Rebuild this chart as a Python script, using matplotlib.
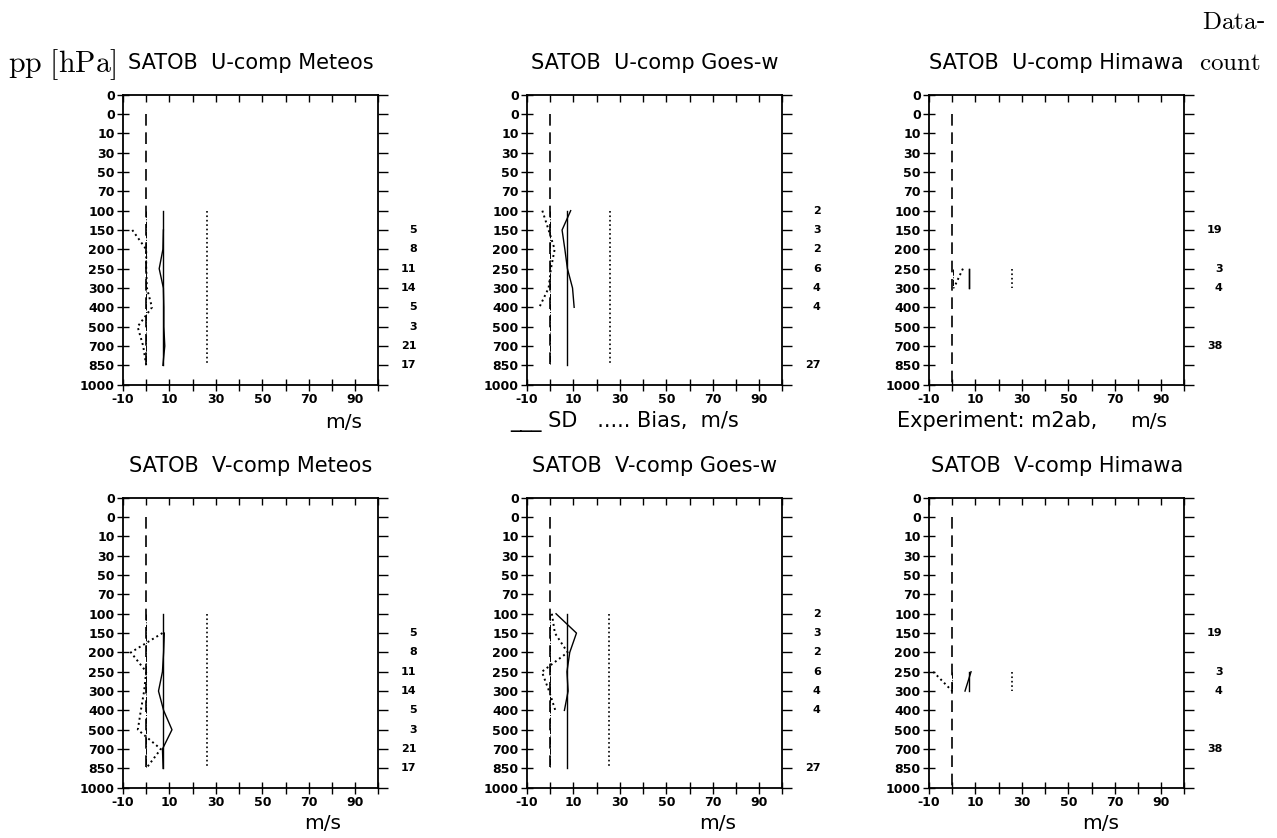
import matplotlib.pyplot as plt
from matplotlib.transforms import blended_transform_factory

plt.rcParams['mathtext.fontset'] = 'cm'

# y axis: pressure levels, equally spaced (as in the original plot)
levels = ['0', '0', '10', '30', '50', '70', '100', '150', '200', '250',
          '300', '400', '500', '700', '850', '1000']
x_ticks = list(range(-10, 101, 10))
x_labels = ['-10', '10', '30', '50', '70', '90']

# --- U component ---
u_meteos_p = [150, 200, 250, 300, 400, 500, 700, 850]
u_meteos_sd = [7.4, 7.2, 5.6, 7.4, 7.6, 7.6, 8.0, 7.2]
u_meteos_bias = [-6.0, 0.0, 0.0, 0.3, 2.5, -3.7, -1.3, 0.0]
u_meteos_cnt = [5, 8, 11, 14, 5, 3, 21, 17]

u_goes_p = [100, 150, 200, 250, 300, 400]
u_goes_sd = [8.8, 5.1, 6.3, 7.4, 9.6, 10.3]
u_goes_bias = [-3.4, -0.7, 1.9, 0.3, -0.7, -4.7]
u_goes_cnt_p = [100, 150, 200, 250, 300, 400, 850]
u_goes_cnt = [2, 3, 2, 6, 4, 4, 27]

u_hima_p = [250, 300]
u_hima_sd = [7.4, 7.4]
u_hima_bias = [4.6, 0.7]
u_hima_cnt_p = [150, 250, 300, 700]
u_hima_cnt = [19, 3, 4, 38]

# --- V component ---
v_meteos_p = [150, 200, 250, 300, 400, 500, 700, 850]
v_meteos_sd = [7.8, 7.5, 7.0, 5.3, 7.5, 11.1, 7.0, 7.3]
v_meteos_bias = [7.0, -6.6, 0.0, -0.9, -2.3, -3.6, 6.3, 0.0]

v_goes_p = [100, 150, 200, 250, 300, 400]
v_goes_sd = [2.5, 11.3, 8.4, 7.2, 7.7, 6.1]
v_goes_bias = [0.7, 2.0, 7.5, -3.6, -0.5, 2.2]

v_hima_p = [250, 300]
v_hima_sd = [8.1, 5.5]
v_hima_bias = [-8.2, 0.0]

# layer means drawn as vertical lines: (top, bottom, sd, bias, rms)
u_meteos_mean = (100, 850, 7.4, 0.0, 26.3)
u_goes_mean = (100, 850, 7.4, 0.0, 25.7)
u_hima_mean = (250, 300, 7.4, 0.3, 25.7)
v_meteos_mean = (100, 850, 7.2, 0.0, 26.0)
v_goes_mean = (100, 850, 7.2, 0.0, 25.4)
v_hima_mean = (250, 300, 7.2, 0.0, 25.9)

zero_span = {'Meteos': (1, 14), 'Goes-w': (1, 14), 'Himawa': (1, 15)}


def ypos(p):
    return levels.index(str(p))


panels = [
    ('U', 'Meteos', u_meteos_p, u_meteos_sd, u_meteos_bias, u_meteos_mean, u_meteos_p, u_meteos_cnt),
    ('U', 'Goes-w', u_goes_p, u_goes_sd, u_goes_bias, u_goes_mean, u_goes_cnt_p, u_goes_cnt),
    ('U', 'Himawa', u_hima_p, u_hima_sd, u_hima_bias, u_hima_mean, u_hima_cnt_p, u_hima_cnt),
    ('V', 'Meteos', v_meteos_p, v_meteos_sd, v_meteos_bias, v_meteos_mean, u_meteos_p, u_meteos_cnt),
    ('V', 'Goes-w', v_goes_p, v_goes_sd, v_goes_bias, v_goes_mean, u_goes_cnt_p, u_goes_cnt),
    ('V', 'Himawa', v_hima_p, v_hima_sd, v_hima_bias, v_hima_mean, u_hima_cnt_p, u_hima_cnt),
]

lefts = [0.0963, 0.4127, 0.7275]
bottoms = {'U': 0.541, 'V': 0.060}

fig = plt.figure(figsize=(12.77, 8.38), dpi=100)
sans = 'DejaVu Sans'

for i, (comp, sat, p, sd, bias, mean, cnt_p, cnt) in enumerate(panels):
    ax = fig.add_axes([lefts[i % 3], bottoms[comp], 0.2, 0.346])
    ax.set_xlim(-10, 100)
    ax.set_ylim(15, 0)

    y = [ypos(v) for v in p]
    ax.plot(sd, y, '-', color='black', lw=1.0)
    ax.plot(bias, y, ':', color='black', lw=1.4)

    top, bot, m_sd, m_bias, m_rms = mean
    yy = [ypos(top), ypos(bot)]
    ax.plot([m_sd, m_sd], yy, '-', color='black', lw=1.0)
    ax.plot([m_rms, m_rms], yy, ':', color='black', lw=1.2)
    ax.plot([m_bias, m_bias], yy, '-.', color='black', lw=0.7)
    z0, z1 = zero_span[sat]
    ax.plot([0, 0], [z0, z1], color='black', lw=1.2, dashes=(7, 4))

    ax.set_yticks(range(len(levels)))
    ax.set_yticklabels(levels, fontsize=9, fontweight='bold', family=sans)
    ax.set_xticks(x_ticks)
    ax.set_xticklabels([str(t) if str(t) in x_labels else '' for t in x_ticks],
                       fontsize=9, fontweight='bold', family=sans)
    ax.tick_params(axis='y', direction='inout', length=8, width=1, pad=2)
    ax.tick_params(axis='x', direction='inout', length=8, width=1, pad=2, top=True)
    ax.tick_params(axis='y', which='both', right=True)
    for t in ax.yaxis.get_ticklines()[1::2]:
        t.set_marker(1)  # right side ticks pointing outward
        t.set_markersize(7)
    for t in ax.xaxis.get_ticklines()[1::2]:
        t.set_marker(3)  # top ticks pointing inward
        t.set_markersize(5)
    for s in ax.spines.values():
        s.set_linewidth(1.3)

    ax.set_title(f'SATOB  {comp}-comp {sat}', fontsize=15, family=sans, pad=18.5)

    tr = blended_transform_factory(ax.transAxes, ax.transData)
    for pc, c in zip(cnt_p, cnt):
        ax.text(1.15, ypos(pc), str(c), transform=tr, ha='right', va='center',
                fontsize=8, fontweight='bold', family=sans)

# free text around the panels
fig.text(8 / 1277, 1 - 65 / 838, r'$\mathrm{pp\ [hPa]}$', fontsize=21.5, va='center', ha='left')
fig.text(1202 / 1277, 1 - 22 / 838, r'$\mathrm{Data}$-', fontsize=18, va='center', ha='left')
fig.text(1199 / 1277, 1 - 63 / 838, r'$\mathrm{count}$', fontsize=18, va='center', ha='left')

fig.text(344 / 1277, 1 - 422 / 838, 'm/s', fontsize=14.5, family=sans, ha='center', va='center')
fig.text(510 / 1277, 1 - 421 / 838, '___ SD   ..... Bias,  m/s', fontsize=15, family=sans,
         ha='left', va='center')
fig.text(897 / 1277, 1 - 421 / 838, 'Experiment: m2ab,', fontsize=15, family=sans,
         ha='left', va='center')
fig.text(1149 / 1277, 1 - 421 / 838, 'm/s', fontsize=14.5, family=sans, ha='center', va='center')
for cx in (323, 718, 1101):
    fig.text(cx / 1277, 1 - 823 / 838, 'm/s', fontsize=14.5, family=sans, ha='center', va='center')

fig.savefig('out.png', dpi=100)
